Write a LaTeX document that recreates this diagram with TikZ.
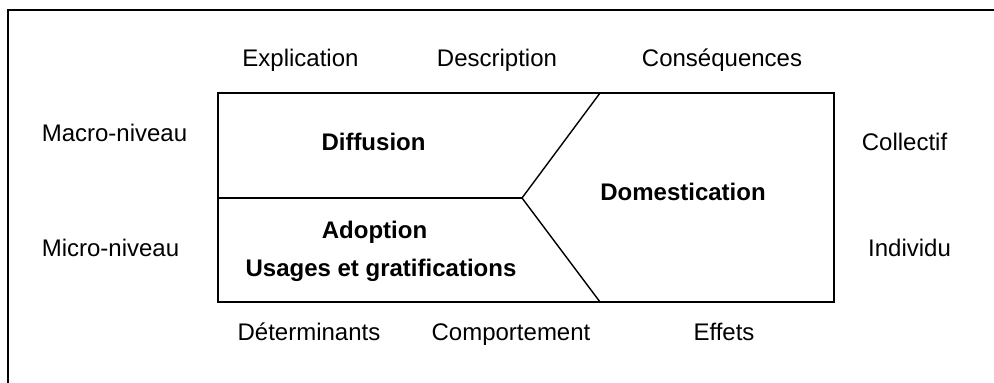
\documentclass[tikz,border=0pt]{standalone}
\usepackage{fontspec}
\setmainfont{Liberation Sans}

\begin{document}
\begin{tikzpicture}[x=0.5pt,y=-0.5pt,line join=miter,
  label node/.style={anchor=base,inner sep=0pt,font=\fontsize{12pt}{14pt}\selectfont},
  main node/.style={anchor=base,inner sep=0pt,font=\fontsize{12pt}{14pt}\selectfont\bfseries}]

  \useasboundingbox (0,0) rectangle (994,383);

  % outer frame (only top and left visible)
  \draw[line width=1pt] (8,400) -- (8,10) -- (1010,10);

  % inner box
  \coordinate (tl) at (218,93);
  \coordinate (br) at (834,302);
  \coordinate (ml) at (218,198);
  \coordinate (tip) at (522,198);
  \coordinate (tt) at (600,93);
  \coordinate (bb) at (600,302);

  \draw[line width=0.7pt] (tl) rectangle (br);
  \draw[line width=0.7pt] (ml) -- (tip);
  \draw[line width=0.7pt] (tt) -- (tip) -- (bb);

  \node[main node] (diff) at (373.5,151) {Diffusion};
  \node[main node] (adop) at (374.5,239) {Adoption};
  \node[main node] (usag) at (381,277) {Usages et gratifications};
  \node[main node] (dom) at (683,201) {Domestication};

  \node[label node] (expl) at (300.5,67) {Explication};
  \node[label node] (desc) at (497,67) {Description};
  \node[label node] (cons) at (722,67) {Conséquences};

  \node[label node] (macro) at (114.5,142) {Macro-niveau};
  \node[label node] (micro) at (110.5,257) {Micro-niveau};
  \node[label node] (coll) at (904.5,151) {Collectif};
  \node[label node] (indiv) at (909.5,257) {Individu};

  \node[label node] (det) at (309,341) {Déterminants};
  \node[label node] (comp) at (511,341) {Comportement};
  \node[label node] (eff) at (724,341) {Effets};
\end{tikzpicture}
\end{document}
